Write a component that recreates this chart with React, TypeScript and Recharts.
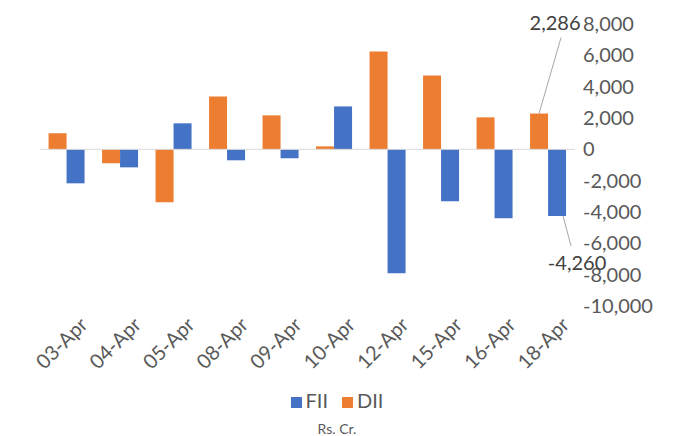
import { BarChart, Bar, XAxis, YAxis, ReferenceLine, Legend, LabelList } from 'recharts';

const dates = ['03-Apr', '04-Apr', '05-Apr', '08-Apr', '09-Apr', '10-Apr', '12-Apr', '15-Apr', '16-Apr', '18-Apr'];
const dii = [1020, -890, -3380, 3380, 2170, 190, 6250, 4720, 2040, 2286];
const fii = [-2170, -1150, 1660, -700, -570, 2740, -7910, -3320, -4400, -4260];
const yTicks = [-10000, -8000, -6000, -4000, -2000, 0, 2000, 4000, 6000, 8000];

const data = dates.map((d, i) => ({ date: d, DII: dii[i], FII: fii[i] }));
const FONT = 'Lato, "DejaVu Sans", sans-serif';
const last = dates.length - 1;

function DiiLabel(props: any) {
  const { x, y, width, height, index, value } = props;
  if (index !== last) return null;
  const cx = x + width / 2;
  const top = Math.min(y, y + height);
  return (
    <g>
      <line x1={cx} y1={top} x2={cx + 22} y2={top - 76} stroke="#a6a6a6" />
      <text x={cx + 16} y={top - 84} fontSize={20} fill="#404040" fontFamily={FONT} textAnchor="middle">
        {value.toLocaleString('en-US')}
      </text>
    </g>
  );
}

function FiiLabel(props: any) {
  const { x, y, width, height, index, value } = props;
  if (index !== last) return null;
  const cx = x + width / 2;
  const by = Math.max(y, y + height);
  return (
    <g>
      <line x1={cx + 6} y1={by} x2={cx + 14} y2={by + 30} stroke="#a6a6a6" />
      <text x={cx + 20} y={by + 54} fontSize={20} fill="#404040" fontFamily={FONT} textAnchor="middle">
        {value.toLocaleString('en-US')}
      </text>
    </g>
  );
}

function LegendContent() {
  return (
    <div style={{ fontFamily: FONT, color: '#595959', textAlign: 'center' }}>
      <div style={{ display: 'flex', justifyContent: 'center', gap: 14, fontSize: 20, marginLeft: -45 }}>
        <span><span style={{ display: 'inline-block', width: 11, height: 11, background: '#4472c4', marginRight: 4 }} />FII</span>
        <span><span style={{ display: 'inline-block', width: 11, height: 11, background: '#ed7d31', marginRight: 4 }} />DII</span>
      </div>
      <div style={{ fontSize: 14, marginTop: 8, marginLeft: -45 }}>Rs. Cr.</div>
    </div>
  );
}

export default function App() {
  return (
    <div style={{ position: 'absolute', left: 0, top: 0, background: '#fff' }}>
      <BarChart width={689} height={436} data={data} margin={{ top: 24, right: 10, left: 40, bottom: 0 }} barCategoryGap="16%" barGap={0}>
        <XAxis dataKey="date" axisLine={false} tickLine={false} interval={0} angle={-45} textAnchor="end" height={82}
          tick={{ fontSize: 20, fill: '#595959', fontFamily: FONT }} dy={2} dx={12} />
        <YAxis orientation="right" domain={[-10000, 8000]} ticks={yTicks} axisLine={false} tickLine={false} width={104}
          tickFormatter={(v: number) => v.toLocaleString('en-US')} tick={{ fontSize: 20, fill: '#595959', fontFamily: FONT, textAnchor: 'start' }} />
        <ReferenceLine y={0} stroke="#d9d9d9" />
        <Bar dataKey="DII" fill="#ed7d31" isAnimationActive={false}>
          <LabelList dataKey="DII" content={DiiLabel} />
        </Bar>
        <Bar dataKey="FII" fill="#4472c4" isAnimationActive={false}>
          <LabelList dataKey="FII" content={FiiLabel} />
        </Bar>
        <Legend verticalAlign="bottom" height={48} content={LegendContent} />
      </BarChart>
    </div>
  );
}
